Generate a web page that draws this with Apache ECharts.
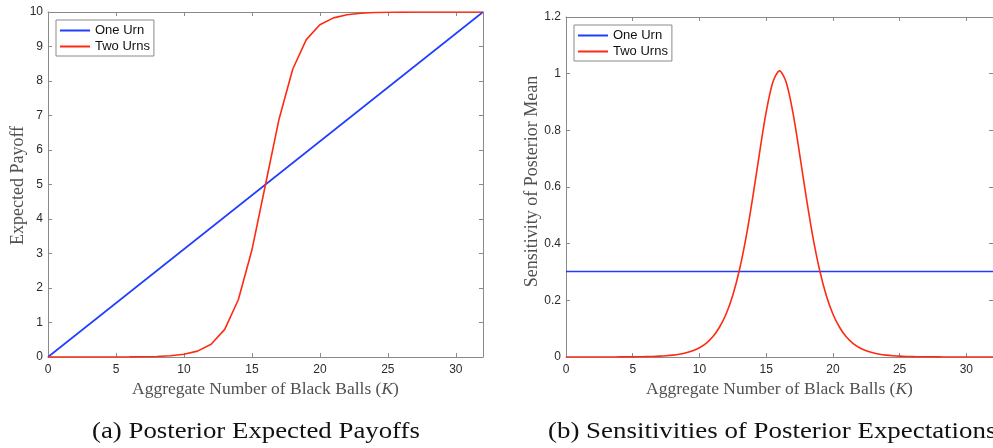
<!DOCTYPE html>
<html>
<head>
<meta charset="utf-8">
<script src="https://cdn.jsdelivr.net/npm/echarts@6/dist/echarts.min.js"></script>
<style>
  html, body { margin: 0; padding: 0; background: #fff; }
  #chart { width: 993px; height: 448px; }
</style>
</head>
<body>
<div id="chart"></div>
<script>
// Panel (a): posterior expected payoff against aggregate number of black balls K
var payoffK = [0, 1, 2, 3, 4, 5, 6, 7, 8, 9, 10, 11, 12, 13, 14, 15, 16,
               17, 18, 19, 20, 21, 22, 23, 24, 25, 26, 27, 28, 29, 30, 31, 32];
var payoffOneUrn = [[0, 0], [32, 10]];
var payoffTwoUrns = [0, 0, 0, 0.0005, 0.001, 0.002, 0.004, 0.008, 0.016, 0.035, 0.08, 0.17,
                     0.37, 0.8, 1.66, 3.1, 5.0, 6.9, 8.34, 9.2, 9.63, 9.83, 9.92, 9.965,
                     9.984, 9.992, 9.996, 9.998, 9.999, 10, 10, 10, 10];

// Panel (b): sensitivity of the posterior mean
var sensK = [0, 0.5, 1, 1.5, 2, 2.5, 3, 3.5, 4, 4.5, 5, 5.5, 6, 6.5, 7, 7.5, 8, 8.5, 9, 9.5,
             10, 10.5, 11, 11.5, 12, 12.5, 13, 13.5, 14, 14.5, 15, 15.5, 16, 16.5, 17, 17.5,
             18, 18.5, 19, 19.5, 20, 20.5, 21, 21.5, 22, 22.5, 23, 23.5, 24, 24.5, 25, 25.5,
             26, 26.5, 27, 27.5, 28, 28.5, 29, 29.5, 30, 30.5, 31, 31.5, 32];
var sensOneUrn = [[0, 0.302], [32, 0.302]];
var sensTwoUrns = [0, 0, 0, 0, 0.0001, 0.0001, 0.0001, 0.0002, 0.0003, 0.0004, 0.0006, 0.0009,
                   0.0014, 0.0020, 0.0030, 0.0045, 0.0067, 0.0100, 0.0148, 0.0221, 0.0327,
                   0.0484, 0.0714, 0.105, 0.152, 0.218, 0.308, 0.424, 0.565, 0.719, 0.864,
                   0.970, 1.010, 0.970, 0.864, 0.719, 0.565, 0.424, 0.308, 0.218, 0.152,
                   0.105, 0.0714, 0.0484, 0.0327, 0.0221, 0.0148, 0.0100, 0.0067, 0.0045,
                   0.0030, 0.0020, 0.0014, 0.0009, 0.0006, 0.0004, 0.0003, 0.0002, 0.0001,
                   0.0001, 0.0001, 0, 0, 0, 0];

var xTicks = [0, 5, 10, 15, 20, 25, 30];
var seriesNames = ['One Urn', 'Two Urns'];
var captions = ['(a) Posterior Expected Payoffs', '(b) Sensitivities of Posterior Expectations'];
var xTitle = 'Aggregate Number of Black Balls';
var yTitles = ['Expected Payoff', 'Sensitivity of Posterior Mean'];

var BLUE = '#1f3dff';
var RED = '#ff2a12';
var AXIS = '#8a8a8a';
var TICK_TXT = '#2b2b2b';
var TITLE_TXT = '#505050';
var SERIF = '"Liberation Serif", "Times New Roman", serif';
var SANS = '"Liberation Sans", Arial, Helvetica, sans-serif';

function zip(xs, ys) {
  return xs.map(function (x, i) { return [x, ys[i]]; });
}

function xFormatter(v) {
  return xTicks.indexOf(v) >= 0 ? String(v) : '';
}

function makeXAxes(gridIndex) {
  var base = {
    type: 'value', gridIndex: gridIndex, min: 0, max: 32, interval: 5,
    splitLine: { show: false },
    axisLine: { show: true, onZero: false, lineStyle: { color: AXIS, width: 1 } },
    axisTick: { show: true, inside: true, length: 4, lineStyle: { color: AXIS } }
  };
  var bottom = Object.assign({}, base, {
    position: 'bottom',
    axisLabel: { show: true, color: TICK_TXT, fontFamily: SANS, fontSize: 12, margin: 7,
                 formatter: xFormatter, showMaxLabel: false },
    name: '{t|' + xTitle + ' (}{i|K}{t|)}',
    nameLocation: 'middle', nameGap: 20,
    nameTextStyle: {
      rich: {
        t: { fontFamily: SERIF, fontSize: 17.5, color: TITLE_TXT },
        i: { fontFamily: SERIF, fontSize: 17.5, color: TITLE_TXT, fontStyle: 'italic' }
      }
    }
  });
  var top = Object.assign({}, base, { position: 'top', axisLabel: { show: false } });
  return [bottom, top];
}

function makeYAxes(gridIndex, max, interval) {
  var base = {
    type: 'value', gridIndex: gridIndex, min: 0, max: max, interval: interval,
    splitLine: { show: false },
    axisLine: { show: true, onZero: false, lineStyle: { color: AXIS, width: 1 } },
    axisTick: { show: true, inside: true, length: 4, lineStyle: { color: AXIS } }
  };
  var left = Object.assign({}, base, {
    position: 'left',
    axisLabel: { show: true, color: TICK_TXT, fontFamily: SANS, fontSize: 12, margin: 5 }
  });
  var right = Object.assign({}, base, { position: 'right', axisLabel: { show: false } });
  return [left, right];
}

// vertical axis title, centred on (cx, cy) and reading bottom to top
function yTitle(text, cx, cy) {
  return {
    type: 'text', x: cx, y: cy, rotation: Math.PI / 2,
    style: { text: text, font: '18px ' + SERIF, fill: TITLE_TXT,
             align: 'center', verticalAlign: 'middle' }
  };
}

function lineSeries(name, data, xi, yi, color, smooth) {
  return {
    type: 'line', name: name, data: data, xAxisIndex: xi, yAxisIndex: yi,
    symbol: 'none', smooth: smooth || false, animation: false,
    lineStyle: { color: color, width: 1.6 }, itemStyle: { color: color }
  };
}

function legendAt(left, top) {
  return {
    data: seriesNames.map(function (n) { return { name: n, icon: 'rect' }; }),
    orient: 'vertical', left: left, top: top,
    itemWidth: 30, itemHeight: 2, itemGap: 1,
    padding: [3, 4, 2, 4],
    borderColor: AXIS, borderWidth: 1, backgroundColor: '#fff',
    textStyle: { fontFamily: SANS, fontSize: 13, color: '#111', lineHeight: 15 },
    selectedMode: false
  };
}

var chart = echarts.init(document.getElementById('chart'), null, { renderer: 'canvas' });

var option = {
  animation: false,
  backgroundColor: '#fff',
  grid: [
    { left: 48, top: 12, width: 435, height: 345, containLabel: false },
    { left: 566, top: 17, width: 431.5, height: 340, containLabel: false }
  ],
  xAxis: makeXAxes(0).concat(makeXAxes(1)),
  yAxis: makeYAxes(0, 10, 1).concat(makeYAxes(1, 1.2, 0.2)),
  legend: [legendAt(56, 20), legendAt(574, 25)],
  series: [
    lineSeries(seriesNames[0], payoffOneUrn, 0, 0, BLUE),
    lineSeries(seriesNames[1], zip(payoffK, payoffTwoUrns), 0, 0, RED),
    lineSeries(seriesNames[0], sensOneUrn, 2, 2, BLUE),
    lineSeries(seriesNames[1], zip(sensK, sensTwoUrns), 2, 2, RED, 0.3)
  ],
  graphic: [
    yTitle(yTitles[0], 18, 185.5),
    yTitle(yTitles[1], 532, 181.5),
    { type: 'text', x: 92, y: 420, scaleX: 1.166,
      style: { text: captions[0], font: '23px ' + SERIF, fill: '#111' } },
    { type: 'text', x: 548, y: 420, scaleX: 1.17,
      style: { text: captions[1], font: '23px ' + SERIF, fill: '#111' } }
  ]
};

chart.setOption(option);
</script>
</body>
</html>
